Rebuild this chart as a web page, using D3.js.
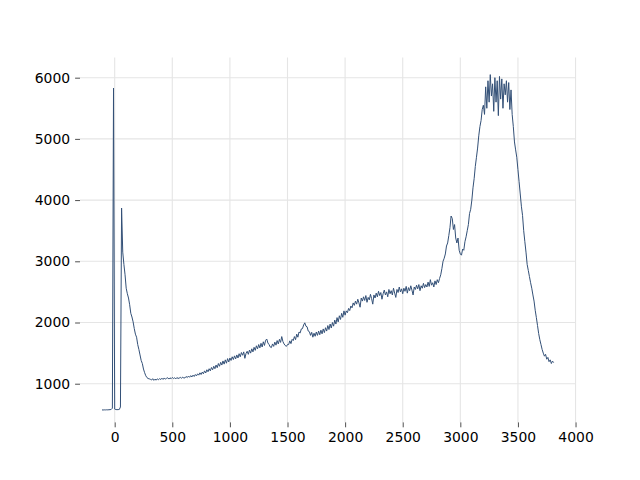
<!DOCTYPE html>
<html>
<head>
<meta charset="utf-8">
<script src="https://cdn.jsdelivr.net/npm/d3@7"></script>
<style>
  html, body { margin: 0; padding: 0; background: #ffffff; }
  svg { display: block; }
</style>
</head>
<body>
<div id="chart"></div>
<script>
// ---- data ----
const xValues = [
  -110, -100, -90, -80, -70, -60, -50, -40, -30, -20, -10, 0,
  10, 20, 30, 40, 50, 60, 70, 80, 90, 100, 110, 120, 130, 140, 150, 160, 170, 180, 190, 200,
  210, 220, 230, 240, 250, 260, 270, 280, 290, 300,
  310, 320, 330, 340, 350, 360, 370, 380, 390, 400, 410, 420, 430, 440, 450, 460, 470, 480, 490, 500,
  510, 520, 530, 540, 550, 560, 570, 580, 590, 600,
  610, 620, 630, 640, 650, 660, 670, 680, 690, 700, 710, 720, 730, 740, 750, 760, 770, 780, 790, 800,
  810, 820, 830, 840, 850, 860, 870, 880, 890, 900, 910, 920, 930, 940, 950, 960, 970, 980, 990, 1000,
  1010, 1020, 1030, 1040, 1050, 1060, 1070, 1080, 1090, 1100, 1110, 1120, 1130, 1140, 1150, 1160, 1170, 1180, 1190, 1200,
  1210, 1220, 1230, 1240, 1250, 1260, 1270, 1280, 1290, 1300, 1310, 1320, 1330, 1340, 1350, 1360, 1370, 1380, 1390, 1400,
  1410, 1420, 1430, 1440, 1450, 1460, 1470, 1480, 1490, 1500,
  1510, 1520, 1530, 1540, 1550, 1560, 1570, 1580, 1590, 1600, 1610, 1620, 1630, 1640, 1650, 1660, 1670, 1680, 1690, 1700,
  1710, 1720, 1730, 1740, 1750, 1760, 1770, 1780, 1790, 1800, 1810, 1820, 1830, 1840, 1850, 1860, 1870, 1880, 1890, 1900,
  1910, 1920, 1930, 1940, 1950, 1960, 1970, 1980, 1990, 2000,
  2010, 2020, 2030, 2040, 2050, 2060, 2070, 2080, 2090, 2100, 2110, 2120, 2130, 2140, 2150, 2160, 2170, 2180, 2190, 2200,
  2210, 2220, 2230, 2240, 2250, 2260, 2270, 2280, 2290, 2300, 2310, 2320, 2330, 2340, 2350, 2360, 2370, 2380, 2390, 2400,
  2410, 2420, 2430, 2440, 2450, 2460, 2470, 2480, 2490, 2500, 2510, 2520, 2530, 2540, 2550, 2560, 2570, 2580, 2590, 2600,
  2610, 2620, 2630, 2640, 2650, 2660, 2670, 2680, 2690, 2700, 2710, 2720, 2730, 2740, 2750, 2760, 2770, 2780, 2790, 2800,
  2810, 2820, 2830, 2840, 2850, 2860, 2870, 2880, 2890, 2900, 2910, 2920, 2930, 2940, 2950, 2960, 2970, 2980, 2990, 3000,
  3010, 3020, 3030, 3040, 3050, 3060, 3070, 3080, 3090, 3100,
  3110, 3120, 3130, 3140, 3150, 3160, 3170, 3180, 3190, 3200, 3210, 3220, 3230, 3240, 3250, 3260, 3270, 3280, 3290, 3300,
  3310, 3320, 3330, 3340, 3350, 3360, 3370, 3380, 3390, 3400, 3410, 3420, 3430, 3440, 3450,
  3460, 3470, 3480, 3490, 3500, 3510, 3520, 3530, 3540, 3550, 3560, 3570, 3580, 3590, 3600,
  3610, 3620, 3630, 3640, 3650, 3660, 3670, 3680, 3690, 3700, 3710, 3720, 3730, 3740, 3750, 3760, 3770, 3780, 3790, 3800, 3810
];

const yValues = [
  572, 571, 573, 572, 574, 573, 575, 576, 580, 600, 5830, 585,
  578, 576, 577, 579, 620, 3870, 3150, 2950, 2780, 2560, 2470, 2400, 2290, 2150, 2090, 2010, 1900, 1810, 1760, 1640,
  1560, 1470, 1380, 1330, 1240, 1180, 1130, 1100, 1085, 1080,
  1072, 1060, 1082, 1055, 1074, 1058, 1080, 1064, 1084, 1068, 1090, 1070, 1094, 1075, 1088, 1098, 1076, 1096, 1082, 1102,
  1084, 1098, 1078, 1101, 1086, 1092, 1104, 1088, 1108, 1094,
  1095, 1118, 1100, 1125, 1105, 1132, 1110, 1140, 1118, 1150, 1128, 1162, 1140, 1178, 1150, 1190, 1162, 1210, 1175, 1228,
  1195, 1245, 1210, 1265, 1228, 1285, 1245, 1305, 1262, 1330, 1285, 1350, 1305, 1372, 1320, 1390, 1335, 1410, 1355, 1420,
  1380, 1440, 1395, 1455, 1405, 1470, 1420, 1490, 1440, 1510, 1465, 1520, 1415, 1495, 1530, 1480, 1550, 1500, 1570, 1520,
  1595, 1545, 1620, 1570, 1640, 1585, 1660, 1600, 1685, 1625, 1710, 1730, 1665, 1640, 1600, 1590, 1650, 1610, 1680, 1630,
  1705, 1650, 1725, 1675, 1770, 1690, 1650, 1625, 1610, 1640,
  1640, 1700, 1655, 1725, 1705, 1770, 1720, 1810, 1760, 1845, 1830, 1895, 1900, 1960, 1995, 1940, 1930, 1860, 1850, 1790,
  1840, 1760, 1825, 1775, 1845, 1790, 1860, 1800, 1875, 1815, 1895, 1835, 1915, 1860, 1950, 1885, 1975, 1910, 2000, 1940,
  2040, 1975, 2080, 2010, 2110, 2050, 2150, 2085, 2190, 2120,
  2190, 2160, 2230, 2195, 2270, 2240, 2320, 2280, 2350, 2300, 2380, 2320, 2250, 2400, 2350, 2420, 2360, 2440, 2330, 2410,
  2370, 2460, 2390, 2300, 2450, 2400, 2480, 2420, 2510, 2440, 2490, 2380, 2470, 2530, 2450, 2500, 2420, 2540, 2470, 2520,
  2450, 2560, 2480, 2410, 2540, 2490, 2580, 2500, 2550, 2470, 2560, 2510, 2590, 2480, 2570, 2520, 2600, 2530, 2450, 2580,
  2540, 2610, 2550, 2620, 2520, 2600, 2560, 2640, 2570, 2620, 2580, 2660, 2590, 2700, 2610, 2650, 2580, 2680, 2620, 2700,
  2650, 2720, 2780, 2880, 3000, 3050, 3120, 3250, 3300, 3420, 3550, 3740, 3700, 3520, 3600, 3380, 3300, 3380, 3180, 3120,
  3100, 3200, 3180, 3320, 3400, 3500, 3600, 3780, 3850, 4000,
  4200, 4350, 4550, 4700, 4850, 5050, 5200, 5300, 5480, 5550, 5400, 5850, 5500, 5950, 5600, 6050, 5700, 5900, 5450, 6000,
  5600, 5950, 5380, 6020, 5650, 5980, 5500, 5900, 5720, 5950, 5600, 5920, 5480, 5800, 5400,
  5200, 4950, 4820, 4700, 4500, 4300, 4100, 3900, 3750, 3500, 3320, 3150, 2950, 2850, 2750,
  2650, 2560, 2450, 2350, 2200, 2080, 1950, 1820, 1720, 1640, 1560, 1500, 1450, 1480, 1400, 1430, 1360, 1390, 1330, 1370, 1345
];

const xTicks = [0, 500, 1000, 1500, 2000, 2500, 3000, 3500, 4000];
const yTicks = [1000, 2000, 3000, 4000, 5000, 6000];

// ---- layout ----
const W = 640, H = 480;
const plotLeft = 80, plotRight = 576, plotTop = 57.6, plotBottom = 422.4;

const svg = d3.select("#chart").append("svg")
  .attr("width", W).attr("height", H);

const x = d3.scaleLinear().domain([-301, 4004]).range([plotLeft, plotRight]);
const y = d3.scaleLinear().domain([368, 6328]).range([plotBottom, plotTop]);

// grid
const grid = svg.append("g");
grid.selectAll("line.vg").data(xTicks).enter().append("line")
  .attr("class", "vg")
  .attr("x1", d => x(d)).attr("x2", d => x(d))
  .attr("y1", plotTop).attr("y2", plotBottom)
  .attr("stroke", "#e5e5e5").attr("stroke-width", 1.1);
grid.selectAll("line.hg").data(yTicks).enter().append("line")
  .attr("class", "hg")
  .attr("x1", plotLeft).attr("x2", plotRight)
  .attr("y1", d => y(d)).attr("y2", d => y(d))
  .attr("stroke", "#e5e5e5").attr("stroke-width", 1.1);

// axes
const xAxis = d3.axisBottom(x).tickValues(xTicks).tickSize(4.9).tickPadding(5).tickFormat(d3.format("d"));
const yAxis = d3.axisLeft(y).tickValues(yTicks).tickSize(4.9).tickPadding(5).tickFormat(d3.format("d"));

const gx = svg.append("g").attr("transform", `translate(0,${plotBottom})`).call(xAxis);
const gy = svg.append("g").attr("transform", `translate(${plotLeft},0)`).call(yAxis);

[gx, gy].forEach(g => {
  g.select(".domain").remove();
  g.selectAll(".tick line").attr("stroke", "#222").attr("stroke-width", 0.8);
  g.selectAll(".tick text")
    .attr("fill", "#000")
    .style("font-family", "'DejaVu Sans', sans-serif")
    .style("font-size", "13.9px");
});

// line
const data = xValues.map((d, i) => [d, yValues[i]]);
const line = d3.line().x(d => x(d[0])).y(d => y(d[1]));
svg.append("path")
  .datum(data)
  .attr("d", line)
  .attr("fill", "none")
  .attr("stroke", "#335077")
  .attr("stroke-width", 1)
  .attr("stroke-linejoin", "round");
</script>
</body>
</html>
